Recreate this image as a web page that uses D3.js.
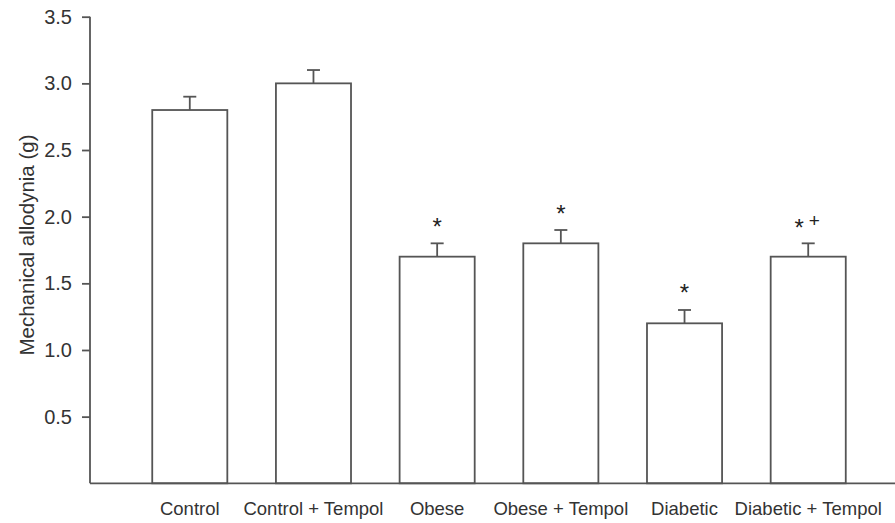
<!DOCTYPE html>
<html>
<head>
<meta charset="utf-8">
<script src="https://cdn.jsdelivr.net/npm/d3@7"></script>
<style>
  body { margin: 0; background: #fff; }
  svg { display: block; font-family: "Liberation Sans", Arial, sans-serif; }
</style>
</head>
<body>
<svg width="895" height="523"></svg>
<script>
let categories = ["Control", "Control + Tempol", "Obese", "Obese + Tempol", "Diabetic", "Diabetic + Tempol"];
let means = [2.8, 3.0, 1.7, 1.8, 1.2, 1.7];
let errors = [0.1, 0.1, 0.1, 0.1, 0.1, 0.1];
let marks = ["", "", "*", "*", "*", "*+"];
let yTicks = [0.5, 1.0, 1.5, 2.0, 2.5, 3.0, 3.5];

let svg = d3.select("svg");
let ink = "#555";
let textInk = "#333";

let plotLeft = 90, plotRight = 895, plotTop = 16.7, plotBottom = 483.3;

let x = d3
  .scaleBand()
  .domain(categories)
  .range([128, 870])
  .paddingInner(0.393)
  .paddingOuter(0.196);

let y = d3.scaleLinear().domain([0, 3.5]).range([plotBottom, plotTop]);

// bars
svg
  .selectAll("rect.bar")
  .data(categories)
  .enter()
  .append("rect")
  .attr("class", "bar")
  .attr("x", (d) => x(d))
  .attr("y", (d, i) => y(means[i]))
  .attr("width", x.bandwidth())
  .attr("height", (d, i) => plotBottom - y(means[i]))
  .attr("fill", "#fff")
  .attr("stroke", ink)
  .attr("stroke-width", 1.8);

// error bars
let cap = 6.5;
let eb = svg.append("g").attr("stroke", ink).attr("stroke-width", 1.8);
eb.selectAll("line.stem")
  .data(categories)
  .enter()
  .append("line")
  .attr("class", "stem")
  .attr("x1", (d) => x(d) + x.bandwidth() / 2)
  .attr("x2", (d) => x(d) + x.bandwidth() / 2)
  .attr("y1", (d, i) => y(means[i]))
  .attr("y2", (d, i) => y(means[i] + errors[i]));
eb.selectAll("line.cap")
  .data(categories)
  .enter()
  .append("line")
  .attr("class", "cap")
  .attr("x1", (d) => x(d) + x.bandwidth() / 2 - cap)
  .attr("x2", (d) => x(d) + x.bandwidth() / 2 + cap)
  .attr("y1", (d, i) => y(means[i] + errors[i]))
  .attr("y2", (d, i) => y(means[i] + errors[i]));

// significance marks
categories.forEach((d, i) => {
  if (!marks[i]) return;
  let cx = x(d) + x.bandwidth() / 2;
  let capY = y(means[i] + errors[i]);
  if (marks[i] === "*") {
    svg.append("text")
      .attr("x", cx)
      .attr("y", capY - 8.5)
      .attr("text-anchor", "middle")
      .attr("font-size", 24)
      .attr("fill", "#222")
      .text("*");
  } else {
    svg.append("text")
      .attr("x", cx - 9)
      .attr("y", capY - 7)
      .attr("text-anchor", "middle")
      .attr("font-size", 24)
      .attr("fill", "#222")
      .text("*");
    svg.append("text")
      .attr("x", cx + 6)
      .attr("y", capY - 16)
      .attr("text-anchor", "middle")
      .attr("font-size", 19)
      .attr("fill", "#222")
      .text("+");
  }
});

// y axis
let yAxis = svg
  .append("g")
  .attr("transform", `translate(${plotLeft},0)`)
  .call(d3.axisLeft(y).tickValues(yTicks).tickFormat(d3.format(".1f")).tickSize(8).tickPadding(10));
yAxis.select(".domain").attr("d", `M0,${plotTop}V${plotBottom}`).attr("stroke", ink).attr("stroke-width", 1.8);
yAxis.selectAll(".tick line").attr("stroke", ink).attr("stroke-width", 1.8);
yAxis.selectAll(".tick text")
  .attr("font-size", 20)
  .attr("font-family", "Liberation Sans, Arial, sans-serif")
  .attr("fill", textInk);

// x axis line
svg.append("line")
  .attr("x1", plotLeft)
  .attr("x2", plotRight)
  .attr("y1", plotBottom)
  .attr("y2", plotBottom)
  .attr("stroke", ink)
  .attr("stroke-width", 1.8);

// x labels
svg
  .selectAll("text.xlab")
  .data(categories)
  .enter()
  .append("text")
  .attr("class", "xlab")
  .attr("x", (d) => x(d) + x.bandwidth() / 2)
  .attr("y", 515)
  .attr("text-anchor", "middle")
  .attr("font-size", 18.5)
  .attr("fill", textInk)
  .text((d) => d);

// y title
svg.append("text")
  .attr("transform", `translate(34,245) rotate(-90)`)
  .attr("text-anchor", "middle")
  .attr("font-size", 20.5)
  .attr("fill", textInk)
  .text("Mechanical allodynia (g)");
</script>
</body>
</html>
